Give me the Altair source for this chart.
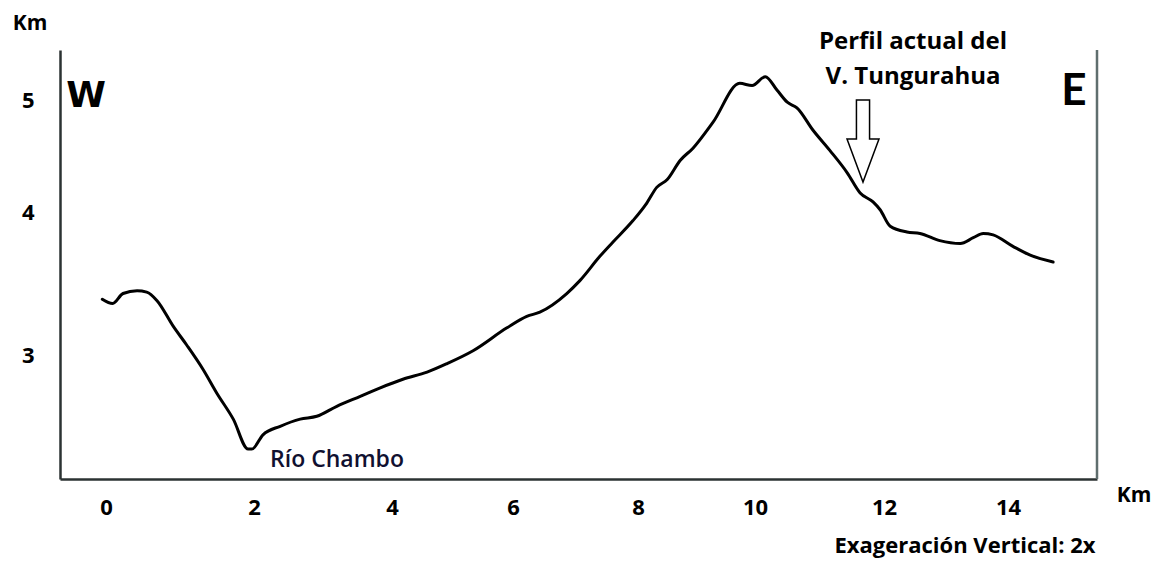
import altair as alt
import pandas as pd

# ---- data (distance along profile, elevation) in km ----
dist_km = [-0.05, 0.09, 0.23, 0.42, 0.55, 0.69, 0.91, 1.09, 1.31, 1.50, 1.72, 1.92,
           1.97, 2.13, 2.38, 2.67, 2.91, 3.20, 3.54, 3.83, 4.18, 4.58, 4.91, 5.34,
           5.90, 6.22, 6.43, 6.86, 7.07, 7.39, 7.60, 7.92, 8.15, 8.32, 8.50, 8.72,
           8.94, 9.28, 9.74, 9.95, 10.16, 10.34, 10.50, 10.65, 10.90, 11.16, 11.43,
           11.63, 11.83, 11.94, 12.10, 12.37, 12.58, 12.90, 13.23, 13.44, 13.60,
           13.76, 14.08, 14.35, 14.73]
elev_km = [3.39, 3.36, 3.43, 3.45, 3.44, 3.38, 3.20, 3.07, 2.90, 2.73, 2.55, 2.34,
           2.34, 2.44, 2.50, 2.55, 2.57, 2.64, 2.71, 2.77, 2.83, 2.88, 2.94, 3.03,
           3.19, 3.27, 3.30, 3.43, 3.52, 3.69, 3.79, 3.94, 4.08, 4.22, 4.29, 4.46,
           4.57, 4.80, 5.15, 5.13, 5.21, 5.09, 4.98, 4.93, 4.73, 4.55, 4.35,
           4.17, 4.09, 4.02, 3.90, 3.86, 3.85, 3.80, 3.78, 3.82, 3.85,
           3.84, 3.76, 3.70, 3.65]

x_ticks = [0, 2, 4, 6, 8, 10, 12, 14]
y_ticks = [3, 4, 5]

# hand-drawn axes in the original are not evenly spaced: piecewise scales
X_DOMAIN = [-0.62, 0, 2, 4, 6, 8, 10, 12, 14, 15.44]
Y_DOMAIN = [2.13, 3, 4, 5, 5.45]

W, H = 1037, 429
X_RANGE = [0, 46, 194, 332, 453, 578, 695, 824, 948, W]
Y_RANGE = [H, 305, 162, 50, 0]

FONT = "Open Sans"
FRAME = "#2b3232"

profile = pd.DataFrame({"d": dist_km, "e": elev_km})

xscale = alt.Scale(domain=X_DOMAIN, range=X_RANGE, nice=False, zero=False)
yscale = alt.Scale(domain=Y_DOMAIN, range=Y_RANGE, nice=False, zero=False)

line = alt.Chart(profile).mark_line(
    color="black", strokeWidth=3, strokeJoin="round", strokeCap="round",
    interpolate="monotone"
).encode(
    x=alt.X("d:Q", scale=xscale, axis=alt.Axis(
        values=x_ticks, title=None, labelFont=FONT, labelFontSize=22,
        labelFontWeight="bold", labelColor="black", labelPadding=18,
        ticks=False, grid=False, domainColor=FRAME, domainWidth=2.5,
        labelFlush=False, labelOverlap=False)),
    y=alt.Y("e:Q", scale=yscale, axis=alt.Axis(
        values=y_ticks, title=None, labelFont=FONT, labelFontSize=22,
        labelFontWeight="bold", labelColor="black", labelPadding=26,
        ticks=False, grid=False, domainColor=FRAME, domainWidth=2.5,
        labelFlush=False, labelOverlap=False)),
    order="d:Q",
)

right_frame = alt.Chart(alt.Data(values=[{"k": 1}])).mark_rule(
    color="#5f6e6e", strokeWidth=2.5
).encode(x=alt.value(W), y=alt.value(0), y2=alt.value(H))


def label(text, x, y, size, font=FONT, weight="bold", color="black"):
    return alt.Chart(alt.Data(values=[{"k": 1}])).mark_text(
        text=text, font=font, fontSize=size, fontWeight=weight, color=color,
        align="center", baseline="middle"
    ).encode(x=alt.value(x), y=alt.value(y))


ARROW = "M-0.16,-1 L0.16,-1 L0.16,-0.05 L0.39,-0.05 L0,1 L-0.39,-0.05 L-0.16,-0.05 Z"
arrow = alt.Chart(alt.Data(values=[{"k": 1}])).mark_point(
    shape=ARROW, size=6724, filled=True, fill="white", stroke="black",
    strokeWidth=1.5, opacity=1
).encode(x=alt.value(803), y=alt.value(91))

texts = [
    label("Km", -30, -26, 21),
    label("W", 26, 46, 36, font="DejaVu Sans"),
    label("E", 1014, 42, 44, font="Lato"),
    label("Perfil actual del", 853, -8, 24),
    label("V. Tungurahua", 853, 27, 24),
    label("Río Chambo", 277, 410, 23, weight=600, color="#101030"),
    label("Km", 1074, 446, 21),
    label("Exageración Vertical: 2x", 905, 496, 22),
]

chart = alt.layer(line, right_frame, arrow, *texts).properties(
    width=W, height=H,
    padding={"left": 52, "top": 42, "right": 56, "bottom": 84},
    autosize=alt.AutoSizeParams(type="none"),
    background="white",
).configure_view(stroke=None)

chart.save("out.html", embed_options={"renderer": "svg", "actions": False})
